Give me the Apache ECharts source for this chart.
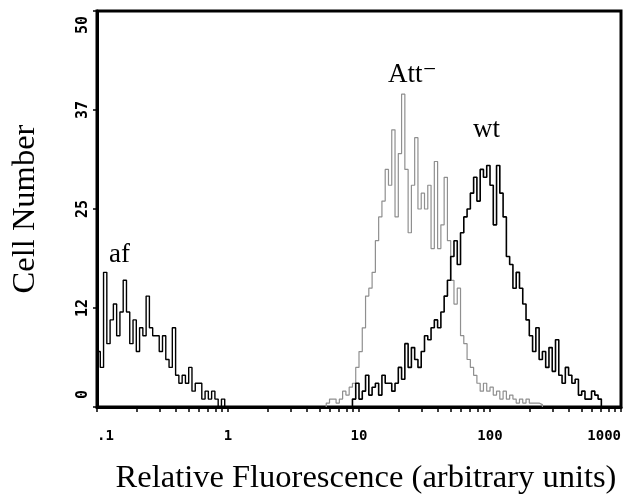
<!DOCTYPE html>
<html><head><meta charset="utf-8">
<script src="https://cdn.jsdelivr.net/npm/echarts@6/dist/echarts.min.js"></script>
<style>html,body{margin:0;padding:0;background:#fff}#c{width:624px;height:500px}</style>
</head><body><div id="c"></div>
<script>
// Histogram channels: 40 channels per decade, starting at 0.1 (log10 = -1)
const binsPerDecade = 40;
const firstBinLog = -1;

const xTickValues = [-1, 0, 1, 2, 3];
const xTickLabels = ['.1', '1', '10', '100', '1000'];
const yTickValues = [0, 12.5, 25, 37.5, 50];
const yTickLabels = ['0', '12', '25', '37', '50'];

const seriesNames = ['af', 'Att⁻', 'wt'];

// autofluorescence (channels 0..38)
const afStartBin = 0;
const afCounts = [7,5,17,8,11,13,9,12,16,12,8,11,7,10,9,14,10,9,9,7,9,6,5,10,4,3,4,3,5,2,3,3,1,2,1,2,1,0,1];

// Att- (channels 70..135)
const attStartBin = 70;
const attCounts = [0.5,1,1,0.5,1,2,1.5,2.5,3,5,7,10,14,15,17,21,24,26,30,28,35,24,32,39.5,30,22,28,34,25,27,25,28,20,31,20,23,29,21,16,13,15,9,8,6,5,4,3,2,3,2,2.5,1.5,2,1,2,1,1.5,1,0.5,1,0.5,1,0.5,0.5,0.5,0.3];

// wt (channels 78..153)
const wtStartBin = 78;
const wtCounts = [1,3,1,2,4,1.5,2.5,3,1.5,4,3,3,2,3,5,3.5,8,5,7.5,6,5,7,9,8.5,10,11,10,12,14,16,19,21,18,22,24,25,27,29,26,30,29,30.5,28,23,30.5,27,24,19,18,15,17,15,13,11,9,7,10,6,7,5,7.5,4.5,8.5,4,3,5,4,3,3.5,1.5,2,1,1,2,1.5,1];

function binLog(g) { return firstBinLog + g / binsPerDecade; }
function histPoints(start, counts) {
  const pts = [[binLog(start), 0]];
  counts.forEach((c, i) => pts.push([binLog(start + i), c]));
  const end = binLog(start + counts.length);
  pts.push([end, counts[counts.length - 1]]);
  pts.push([end, 0]);
  return pts;
}
// tick positions at 1..9 x each decade
const xMinorTicks = [];
for (let d = -1; d <= 2; d++) for (let k = 1; k <= 9; k++) xMinorTicks.push(d + Math.log10(k));
xMinorTicks.push(3);

const monoFont = '"DejaVu Sans Mono", "Liberation Mono", monospace';
const serifFont = '"Liberation Serif", "DejaVu Serif", serif';

const chart = echarts.init(document.getElementById('c'), null, {renderer: 'canvas'});
chart.setOption({
  animation: false,
  backgroundColor: '#fff',
  grid: {left: 97, right: 2, top: 11, bottom: 93, show: true, borderColor: '#000', borderWidth: 3},
  xAxis: {
    type: 'value', min: -1, max: 3, interval: 1,
    name: 'Relative Fluorescence (arbitrary units)', nameLocation: 'middle', nameGap: 55,
    nameTextStyle: {fontFamily: serifFont, fontSize: 32.5, color: '#000', padding: [0, 0, 0, 14]},
    axisLine: {show: true, onZero: false, lineStyle: {color: '#000', width: 3}},
    axisTick: {show: true, customValues: xMinorTicks, length: 5, lineStyle: {color: '#000', width: 1.5}},
    axisLabel: {
      formatter: v => xTickLabels[xTickValues.indexOf(Math.round(v))],
      fontFamily: monoFont, fontWeight: 'bold', fontSize: 14, color: '#000', margin: 22,
      alignMinLabel: 'left', alignMaxLabel: 'right'
    },
    splitLine: {show: false}
  },
  yAxis: {
    type: 'value', min: 0, max: 50, interval: 12.5,
    name: 'Cell Number', nameLocation: 'middle', nameGap: 55,
    nameTextStyle: {fontFamily: serifFont, fontSize: 32.5, color: '#000'},
    axisLine: {show: true, onZero: false, lineStyle: {color: '#000', width: 3}},
    axisTick: {show: true, length: 4, lineStyle: {color: '#000', width: 1.5}},
    axisLabel: {
      formatter: v => {
        const i = yTickValues.indexOf(v);
        if (i === 0) return '{lo|' + yTickLabels[i] + '}';
        if (i === yTickValues.length - 1) return '{hi|' + yTickLabels[i] + '}';
        return yTickLabels[i];
      },
      rich: {
        lo: {fontFamily: monoFont, fontWeight: 'bold', fontSize: 15, color: '#000', padding: [0, 0, 0, 8]},
        hi: {fontFamily: monoFont, fontWeight: 'bold', fontSize: 15, color: '#000', padding: [0, 5, 0, 0]}
      },
      rotate: 90, fontFamily: monoFont, fontWeight: 'bold', fontSize: 15, color: '#000', margin: 6,
      alignMinLabel: 'left', alignMaxLabel: 'right'
    },
    splitLine: {show: false}
  },
  series: [
    {name: seriesNames[1], type: 'line', step: 'end', symbol: 'none', clip: true,
     data: histPoints(attStartBin, attCounts), lineStyle: {color: '#8f8f8f', width: 1.2}, z: 2},
    {name: seriesNames[0], type: 'line', step: 'end', symbol: 'none', clip: true,
     data: histPoints(afStartBin, afCounts), lineStyle: {color: '#000', width: 1.4}, z: 3},
    {name: seriesNames[2], type: 'line', step: 'end', symbol: 'none', clip: true,
     data: histPoints(wtStartBin, wtCounts), lineStyle: {color: '#000', width: 1.6}, z: 3}
  ],
  graphic: [
    {type: 'text', x: 109, y: 255, style: {text: seriesNames[0], font: '27px ' + serifFont, fill: '#000', verticalAlign: 'middle'}},
    {type: 'text', x: 388, y: 75, style: {text: seriesNames[1], font: '27px ' + serifFont, fill: '#000', verticalAlign: 'middle'}},
    {type: 'text', x: 473, y: 130, style: {text: seriesNames[2], font: '27px ' + serifFont, fill: '#000', verticalAlign: 'middle'}}
  ]
});
</script></body></html>
